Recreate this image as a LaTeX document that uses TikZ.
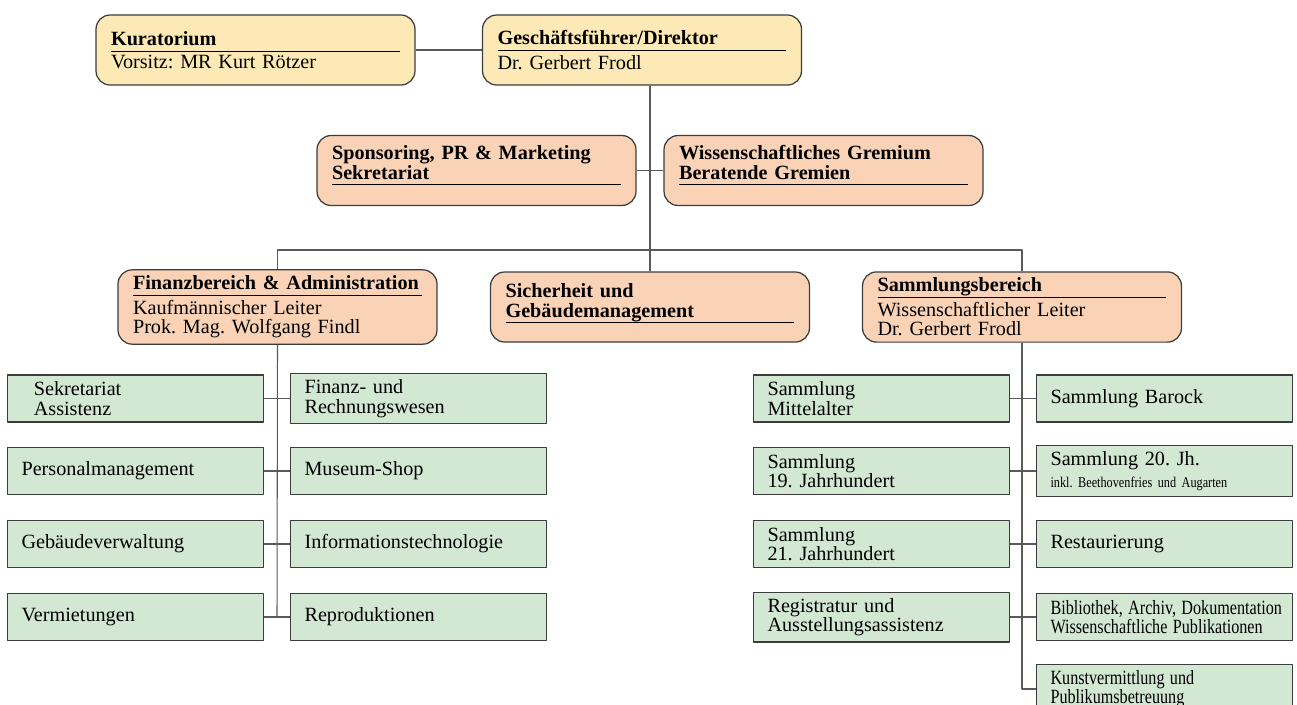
\documentclass[tikz,border=0pt]{standalone}
\usepackage{fontspec}
\setmainfont{Liberation Serif}
\usepackage{graphicx}
\definecolor{gelb}{RGB}{253,233,181}
\definecolor{lachs}{RGB}{250,211,183}
\definecolor{gruen}{RGB}{210,232,211}
\definecolor{rahmen}{RGB}{60,60,60}
\definecolor{linie}{RGB}{90,90,90}
% Unterstrich unter einer Zeile, ohne den Zeilenabstand zu aendern
\newcommand{\strich}{\strut\par\dimen0=\prevdepth\nointerlineskip
  \vbox to 0pt{\kern-0.6pt\hrule width\hsize height .6pt\vss}\prevdepth=\dimen0 }
\newcommand{\titel}[1]{\textbf{#1}\strich\kern1.5pt}
\newcommand{\schmal}[1]{\scalebox{0.8}[1]{#1}}
\tikzset{
  grundbox/.style={draw=rahmen, line width=0.7pt, align=left,
    font=\fontsize{11.5}{11.2}\selectfont\frenchspacing},
  kopfbox/.style={grundbox, rounded corners=8pt, fill=gelb,
    inner xsep=0.3cm, text width=5.78cm, minimum height=1.4cm},
  leitbox/.style={kopfbox, fill=lachs},
  abtbox/.style={grundbox, fill=gruen, inner xsep=0.28cm,
    text width=4.56cm, minimum height=0.94cm},
  verbindung/.style={draw=linie, line width=0.6pt}
}
\begin{document}
\begin{tikzpicture}[x=0.02cm, y=-0.02cm, line join=round]
\useasboundingbox (0,0) rectangle (1297,704);
% Spitze
\node[kopfbox] (kur) at (255.5,50) {\titel{Kuratorium}Vorsitz: MR Kurt Rötzer};
\node[kopfbox] (gf) at (642,50) {\titel{Geschäftsführer/Direktor}Dr. Gerbert Frodl};
% Stabsstellen
\node[leitbox] (spon) at (476.5,170.5) {\textbf{Sponsoring, PR \& Marketing}\\
  \textbf{Sekretariat}\strich\kern6pt};
\node[leitbox] (wiss) at (823.5,170.5) {\textbf{Wissenschaftliches Gremium}\\
  \textbf{Beratende Gremien}\strich\kern6pt};
% Bereiche
\node[leitbox] (fin) at (277.5,307) {\titel{Finanzbereich \& Administration}%
  Kaufmännischer Leiter\\ Prok. Mag. Wolfgang Findl};
\node[leitbox] (sich) at (650,307) {\textbf{Sicherheit und}\\
  \textbf{Gebäudemanagement}\strich\kern4pt};
\node[leitbox] (samm) at (1022,307) {\titel{Sammlungsbereich}%
  Wissenschaftlicher Leiter\\ Dr. Gerbert Frodl};
% Finanzbereich
\node[abtbox] (sekr) at (135.5,398.5) {\hspace*{7pt}Sekretariat\\ \hspace*{7pt}Assistenz};
\node[abtbox] (rw) at (418.5,398.5) {Finanz- und\\ Rechnungswesen};
\node[abtbox] (pers) at (135.5,471) {Personalmanagement};
\node[abtbox] (shop) at (418.5,471) {Museum-Shop};
\node[abtbox] (gv) at (135.5,544) {Gebäudeverwaltung};
\node[abtbox] (it) at (418.5,544) {Informationstechnologie};
\node[abtbox] (verm) at (135.5,617) {Vermietungen};
\node[abtbox] (repro) at (418.5,617) {Reproduktionen};
% Sammlungsbereich
\node[abtbox] (mitt) at (881.5,398.5) {Sammlung\\ Mittelalter};
\node[abtbox] (bar) at (1164.5,398.5) {Sammlung Barock};
\node[abtbox] (neunz) at (881.5,471) {Sammlung\\ 19. Jahrhundert};
\node[abtbox] (zwanz) at (1164.5,471) {Sammlung 20. Jh.\\[1pt]
  {\fontsize{8.5}{9}\selectfont\scalebox{0.82}[1]{inkl. Beethovenfries und Augarten}}};
\node[abtbox] (einundz) at (881.5,544) {Sammlung\\ 21. Jahrhundert};
\node[abtbox] (rest) at (1164.5,544) {Restaurierung};
\node[abtbox] (reg) at (881.5,617) {Registratur und\\ Ausstellungsassistenz};
\node[abtbox] (bib) at (1164.5,617) {\schmal{Bibliothek, Archiv, Dokumentation}\\
  \schmal{Wissenschaftliche Publikationen}};
\node[abtbox] (kunst) at (1164.5,689) {\schmal{Kunstvermittlung und}\\
  \schmal{Publikumsbetreuung}};
% Linien
\coordinate (schiene) at (650,250);
\coordinate (finende) at (277,617);
\path[verbindung] (kur) -- (gf);
\path[verbindung] (sich.north) -- (sich.north |- gf.south);
\path[verbindung] (spon) -- (wiss);
\path[verbindung] (fin.north) |- (schiene) -| (samm.north);
\path[verbindung] (fin.south) -- (finende);
\path[verbindung] (samm.south) |- (kunst.west);
\foreach \l/\r in {sekr/rw, pers/shop, gv/it, verm/repro,
  mitt/bar, neunz/zwanz, einundz/rest, reg/bib}
  \path[verbindung] (\l.east) -- (\r.west);
\end{tikzpicture}
\end{document}
